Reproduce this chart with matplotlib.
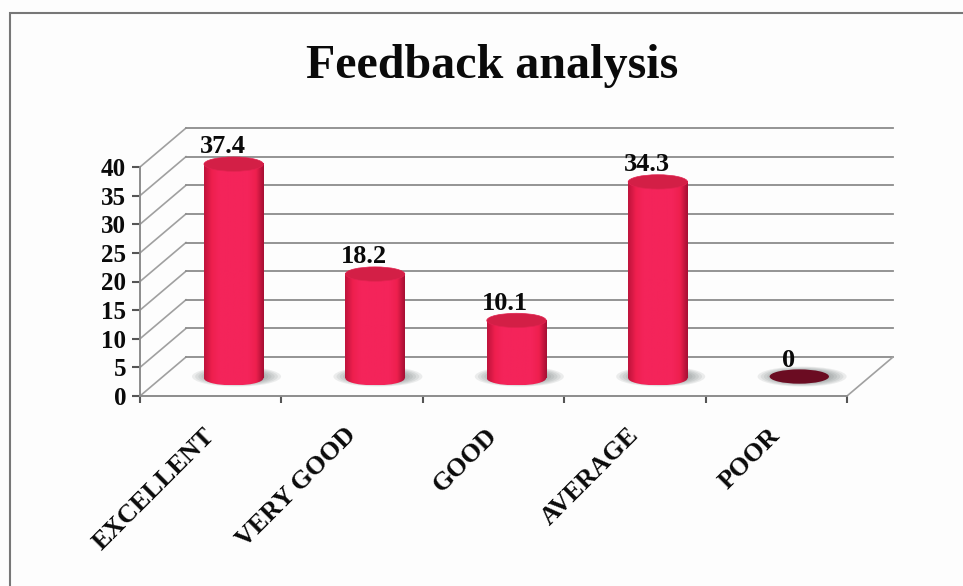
import numpy as np
import matplotlib
matplotlib.use('Agg')
import matplotlib.pyplot as plt
from matplotlib.colors import LinearSegmentedColormap
from matplotlib.patches import Ellipse, Rectangle
from matplotlib.transforms import ScaledTranslation

categories = ['EXCELLENT', 'VERY GOOD', 'GOOD', 'AVERAGE', 'POOR']
values = [37.4, 18.2, 10.1, 34.3, 0]
y_ticks = [0, 5, 10, 15, 20, 25, 30, 35, 40]

# depth of the fake 3d box, in data units
depth_x = 0.325
depth_y = 6.8
bar_w = 0.42
ell_h = 2.5

plt.rcParams['font.family'] = ['Liberation Serif', 'DejaVu Serif']
plt.rcParams['font.weight'] = 'bold'

fig = plt.figure(figsize=(9.63, 5.86), dpi=100, facecolor='#fdfdfd')
fig.add_artist(Rectangle((10 / 963, -0.01), 1.0, 1 - 13 / 586 + 0.01, transform=fig.transFigure,
                         fill=False, edgecolor='#777777', lw=1.5))
fig.text(492 / 963, 1 - 66 / 586, 'Feedback analysis', ha='center', va='center',
         fontsize=34.6, color='#0a0a0a')

ax = fig.add_axes([140 / 963, 1 - 396 / 586, 707 / 963, 229 / 586])
ax.set_xlim(0, 5)
ax.set_ylim(0, 40)
ax.patch.set_alpha(0)
grid_c = '#8c8c8c'

# walls and floor
for v in y_ticks:
    ax.plot([0, depth_x], [v, v + depth_y], color='#a0a0a0', lw=1.2, clip_on=False, zorder=1)
    ax.plot([depth_x, 5 + depth_x], [v + depth_y, v + depth_y], color=grid_c, lw=1.3, clip_on=False, zorder=1)
ax.plot([5, 5 + depth_x], [0, depth_y], color='#a0a0a0', lw=1.2, clip_on=False, zorder=1)

body_cmap = LinearSegmentedColormap.from_list('body', ['#c0143c', '#ee1f4e', '#f4245a', '#f4245a', '#f4245a', '#f4245a', '#f4245a', '#ee1f4e', '#a81034'])
grad = np.linspace(0, 1, 64).reshape(1, -1)

for i, v in enumerate(values):
    xc = i + 0.5 + depth_x / 2
    yb = depth_y / 2 - 0.3
    # shadow on the floor
    for k in range(10):
        sc = 1 - k / 14
        ax.add_patch(Ellipse((xc + 0.02, yb + 0.3), bar_w * 1.5 * sc, ell_h * 1.4 * sc,
                             fc='#556060', ec='none', alpha=0.1, zorder=2, clip_on=False))
    if v == 0:
        ax.add_patch(Ellipse((xc, yb + 0.3), bar_w, ell_h, fc='#6b0c22', ec='none', zorder=4))
    else:
        ax.imshow(grad, extent=[xc - bar_w / 2, xc + bar_w / 2, yb, yb + v], cmap=body_cmap,
                  aspect='auto', zorder=3, clip_on=False)
        low = ax.imshow(grad, extent=[xc - bar_w / 2, xc + bar_w / 2, yb - ell_h / 2, yb], cmap=body_cmap,
                        aspect='auto', zorder=3)
        base = Ellipse((xc, yb), bar_w, ell_h, fc='none', ec='none', zorder=3)
        ax.add_patch(base)
        low.set_clip_path(base)
        ax.add_patch(Ellipse((xc, yb + v), bar_w, ell_h, fc='#d31f46', ec='#e22250', lw=0.5, zorder=5, clip_on=False))
    ax.annotate(str(v), (xc, yb + v), xytext=(-8, 12.5), textcoords='offset points', ha='center', va='center',
                fontsize=19, color='#0a0a0a', zorder=6, annotation_clip=False)

ax.set_xlim(0, 5)
ax.set_ylim(0, 40)

for s in ['top', 'right']:
    ax.spines[s].set_visible(False)
for s in ['left', 'bottom']:
    ax.spines[s].set_color(grid_c)
    ax.spines[s].set_linewidth(1.4)
    ax.spines[s].set_zorder(2)

ax.set_yticks(y_ticks)
ax.set_xticks(range(6))
ax.set_xticklabels([])
ax.set_xticks([i + 0.5 for i in range(5)], labels=categories, minor=True)
ax.tick_params(axis='y', length=6, width=1.5, color='#555555', labelsize=18, pad=4, labelcolor='#0a0a0a')
ax.tick_params(axis='x', which='major', length=5, width=1.5, color='#555555')
ax.tick_params(axis='x', which='minor', length=0, labelsize=18.8, pad=20, labelcolor='#0a0a0a')
shift = ScaledTranslation(-8 / 100, 0, fig.dpi_scale_trans)
for t in ax.get_xticklabels(minor=True):
    t.set_rotation(45)
    t.set_ha('right')
    t.set_rotation_mode('anchor')
    t.set_transform(t.get_transform() + shift)

fig.savefig('out.png', dpi=100, facecolor=fig.get_facecolor())
